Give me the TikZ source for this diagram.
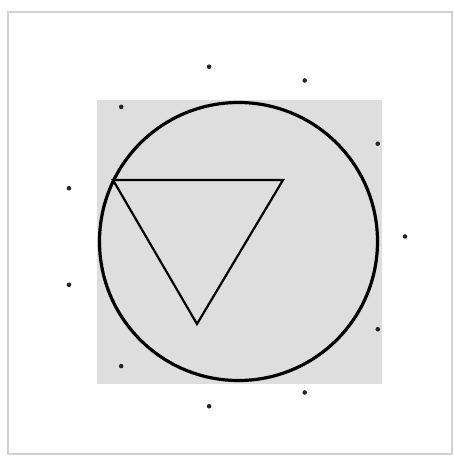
\documentclass[tikz,border=0pt]{standalone}
\usepackage{tikz}
\usetikzlibrary{calc}

\begin{document}
\begin{tikzpicture}[x=1pt, y=-1pt]
  \useasboundingbox (0,0) rectangle (454,457);

  % Frame
  \draw[line width=1.5pt, gray!35] (8,12) rectangle (452,454);

  % Shaded square behind the circle
  \fill[black!13] (97,100) rectangle (382,384);

  % Circle
  \coordinate (O) at (238.5,241.5);
  \draw[line width=3.2pt, black] (O) circle (139);

  % Triangle inscribed at its left corner
  \coordinate (A) at (113,180);
  \coordinate (B) at (283,180);
  \coordinate (C) at (197,324);
  \draw[line width=2.2pt, black, line join=miter] (A) -- (B) -- (C) -- cycle;

  % Eleven dots round the figure
  \coordinate (M) at (233.5,236.5);
  \foreach \k in {0,...,10}
    \fill[black!85] ($(M)+({171.5*cos(\k*360/11)},{-171.5*sin(\k*360/11)})$) circle (2.3pt);
\end{tikzpicture}
\end{document}
